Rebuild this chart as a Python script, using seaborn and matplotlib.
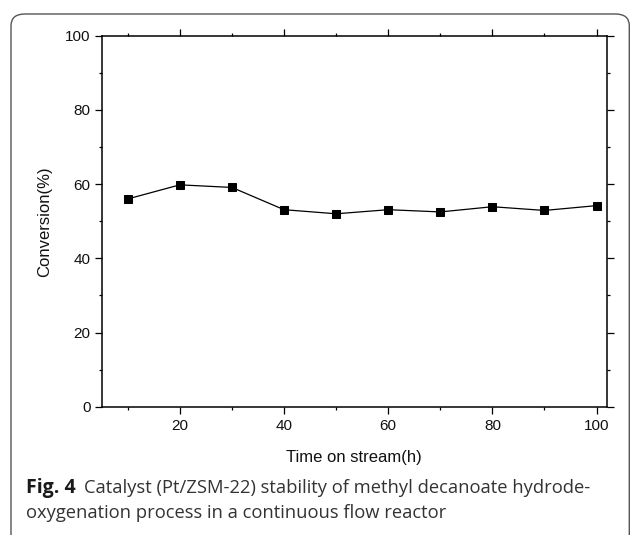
## Catalyst stability: conversion vs time on stream.
import numpy as np
import pandas as pd
import matplotlib
matplotlib.use("Agg")
import matplotlib.pyplot as plt
import seaborn as sns
from matplotlib.patches import FancyBboxPatch
from matplotlib.ticker import MultipleLocator

# Data.
time_h = [10, 20, 30, 40, 50, 60, 70, 80, 90, 100]
conversion = [56.0, 59.8, 59.1, 53.1, 52.0, 53.1, 52.5, 53.9, 52.9, 54.2]
x_label = "Time on stream(h)"
y_label = "Conversion(%)"
caption_bold = "Fig. 4"
caption_line1 = "Catalyst (Pt/ZSM-22) stability of methyl decanoate hydrode-"
caption_line2 = "oxygenation process in a continuous flow reactor"

sns.set_style("ticks")
plt.rcParams['font.family'] = ['Liberation Sans', 'DejaVu Sans']

W, H = 630, 535
fig = plt.figure(figsize=(W / 100, H / 100), dpi=100)

def px(x0, y0, x1, y1):
    """Pixel box (top-left origin) to figure fraction rect."""
    return [x0 / W, 1 - y1 / H, (x1 - x0) / W, (y1 - y0) / H]

ax = fig.add_axes(px(101.7, 35.7, 607, 406.7))

df = pd.DataFrame({x_label: time_h, y_label: conversion})
sns.lineplot(data=df, x=x_label, y=y_label, ax=ax, color='black', linewidth=0.9,
             marker='s', markersize=5.2, markeredgecolor='black', markerfacecolor='black')

ax.set_xlim(5, 102)
ax.set_ylim(0, 100)
ax.xaxis.set_major_locator(MultipleLocator(20))
ax.xaxis.set_minor_locator(MultipleLocator(10))
ax.yaxis.set_major_locator(MultipleLocator(20))
ax.yaxis.set_minor_locator(MultipleLocator(10))
ax.tick_params(which='both', direction='out', top=True, right=True, labeltop=False,
               labelright=False, width=0.9, color='black', labelsize=11, labelcolor='#111111')
ax.tick_params(which='major', length=5)
ax.tick_params(which='minor', length=2.5)
ax.tick_params(axis='x', which='major', pad=4)
ax.tick_params(axis='y', which='major', pad=3)
for s in ax.spines.values():
    s.set_linewidth(1.1)
    s.set_color('black')
ax.set_xlabel(x_label, fontsize=12, labelpad=12, color='#111111')
ax.set_ylabel(y_label, fontsize=12, labelpad=9, color='#111111')

# Caption.
cap_font = ['Open Sans', 'DejaVu Sans']
fig.text(26 / W, 1 - 488 / H, caption_bold, fontsize=14, fontweight='bold',
         family=cap_font, va='center', ha='left', color='#1a1a1a')
fig.text(84 / W, 1 - 488 / H, caption_line1, fontsize=13.2, family=cap_font,
         va='center', ha='left', color='#333333')
fig.text(26 / W, 1 - 513 / H, caption_line2, fontsize=13.2, family=cap_font,
         va='center', ha='left', color='#333333')

# Rounded frame around the figure panel.
frame = FancyBboxPatch((11 / W, -0.2), (629.3 - 11) / W, 1 - 14 / H + 0.2,
                       boxstyle="round,pad=0,rounding_size=0.022",
                       transform=fig.transFigure, fill=False,
                       edgecolor='#555555', linewidth=1.0, clip_on=False)
fig.patches.append(frame)

fig.savefig('out.png', dpi=100)
